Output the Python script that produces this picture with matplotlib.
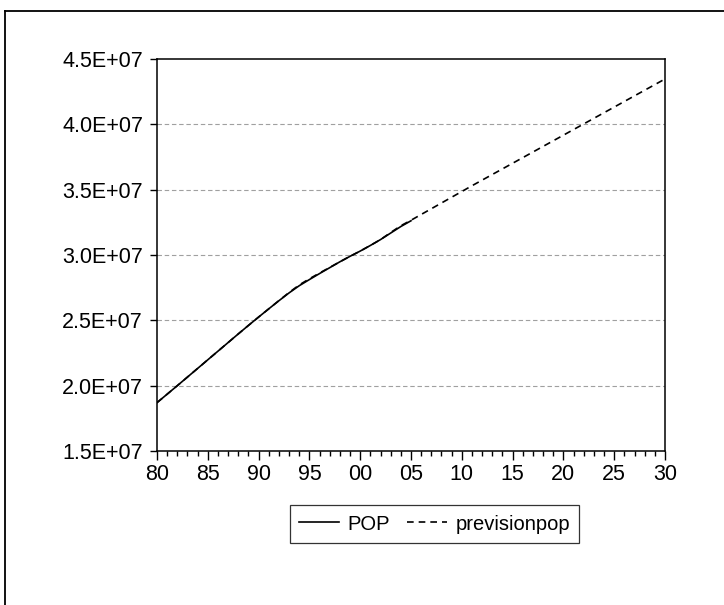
import numpy as np
import matplotlib.pyplot as plt
from matplotlib.lines import Line2D
from matplotlib.ticker import FixedLocator, MultipleLocator

plt.rcParams['font.family'] = ['Liberation Sans', 'DejaVu Sans']

# observed population 1980-2005
pop_years = list(range(1980, 2006))
pop = [1.870e7, 1.935e7, 2.000e7, 2.066e7, 2.132e7, 2.198e7, 2.264e7, 2.330e7,
       2.396e7, 2.461e7, 2.525e7, 2.588e7, 2.650e7, 2.710e7, 2.765e7, 2.812e7,
       2.858e7, 2.903e7, 2.948e7, 2.990e7, 3.030e7, 3.073e7, 3.118e7, 3.168e7,
       3.218e7, 3.262e7]

# forecast 1980-2030
prev_years = list(range(1980, 2031))
prev = [1.870e7, 1.935e7, 2.000e7, 2.066e7, 2.132e7, 2.198e7, 2.264e7, 2.330e7,
        2.396e7, 2.461e7, 2.525e7, 2.588e7, 2.651e7, 2.713e7, 2.771e7, 2.818e7,
        2.862e7, 2.905e7, 2.948e7, 2.990e7, 3.030e7, 3.073e7, 3.118e7, 3.172e7,
        3.224e7, 3.266e7, 3.310e7, 3.354e7, 3.398e7, 3.442e7, 3.486e7, 3.530e7,
        3.573e7, 3.616e7, 3.659e7, 3.702e7, 3.745e7, 3.788e7, 3.831e7, 3.874e7,
        3.917e7, 3.960e7, 4.003e7, 4.046e7, 4.089e7, 4.132e7, 4.175e7, 4.218e7,
        4.261e7, 4.304e7, 4.347e7]

xticks = [1980, 1985, 1990, 1995, 2000, 2005, 2010, 2015, 2020, 2025, 2030]
xlabels = ['80', '85', '90', '95', '00', '05', '10', '15', '20', '25', '30']
yticks = [1.5e7, 2.0e7, 2.5e7, 3.0e7, 3.5e7, 4.0e7, 4.5e7]
ylabels = ['1.5E+07', '2.0E+07', '2.5E+07', '3.0E+07', '3.5E+07', '4.0E+07', '4.5E+07']

fig = plt.figure(figsize=(7.24, 6.05), dpi=100)
ax = fig.add_axes([157/724, 1 - 451/605, (665-157)/724, (451-59)/605])

# outer frame (top and left edges visible)
fig.add_artist(Line2D([5/724, 1.0], [1 - 11/605, 1 - 11/605], color='black', lw=1.3, transform=fig.transFigure))
fig.add_artist(Line2D([5/724, 5/724], [0.0, 1 - 11/605], color='black', lw=1.3, transform=fig.transFigure))

for yv in yticks[1:-1]:
    ax.axhline(yv, color='#a0a0a0', lw=0.8, dashes=(4, 2.5), zorder=1)

ax.plot(prev_years, prev, color='black', lw=1.2, dashes=(4, 3), label='previsionpop', zorder=3)
ax.plot(pop_years, pop, color='black', lw=1.2, label='POP', zorder=4)

ax.set_xlim(1980, 2030)
ax.set_ylim(1.5e7, 4.5e7)
ax.xaxis.set_major_locator(FixedLocator(xticks))
ax.set_xticklabels(xlabels)
ax.xaxis.set_minor_locator(MultipleLocator(1))
ax.set_yticks(yticks)
ax.set_yticklabels(ylabels)

ax.tick_params(axis='both', which='major', labelsize=15.5, direction='out', width=1, color='black')
ax.tick_params(axis='x', which='major', length=6.5, pad=3)
ax.tick_params(axis='x', which='minor', length=3.5, width=1, direction='out')
ax.tick_params(axis='y', which='major', length=5, pad=5)
ax.tick_params(axis='y', which='minor', left=False)

for s in ax.spines.values():
    s.set_linewidth(1.1)
    s.set_color('black')

h, l = ax.get_legend_handles_labels()
leg = ax.legend(h[::-1], l[::-1], ncol=2, loc='center', bbox_to_anchor=(434.5/724, 1 - 524/605),
                bbox_transform=fig.transFigure, fontsize=14.5, frameon=True, fancybox=False,
                edgecolor='black', handlelength=2.0, handletextpad=0.4, columnspacing=0.85,
                borderpad=0.45, borderaxespad=0)
leg.get_frame().set_linewidth(0.9)

fig.savefig('out.png', dpi=100)
